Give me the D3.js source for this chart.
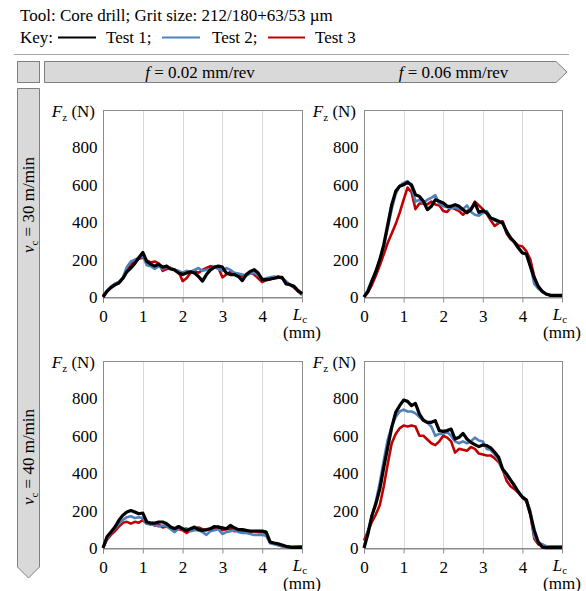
<!DOCTYPE html>
<html>
<head>
<meta charset="utf-8">
<script src="https://cdn.jsdelivr.net/npm/d3@7"></script>
<style>
    body { margin: 0; background: #fff; }
    svg { display: block; font-family: 'Liberation Serif', 'Times New Roman', serif; }
</style>
</head>
<body>
<svg id="chart" width="586" height="591"></svg>
<script>
'use strict';

// Cutting length L_c (mm), shared by every trace
var lc = [0, 0.1, 0.2, 0.3, 0.4, 0.5, 0.6, 0.7, 0.8, 0.9,
          1, 1.1, 1.2, 1.3, 1.4, 1.5, 1.6, 1.7, 1.8, 1.9,
          2, 2.1, 2.2, 2.3, 2.4, 2.5, 2.6, 2.7, 2.8, 2.9,
          3, 3.1, 3.2, 3.3, 3.4, 3.5, 3.6, 3.7, 3.8, 3.9,
          4, 4.1, 4.2, 4.3, 4.4, 4.5, 4.6, 4.7, 4.8, 4.9, 5];

// Thrust force F_z (N): vc = 30 m/min, f = 0.02 mm/rev
var fz30f02t1 = [0, 30, 50, 65, 75, 100, 135, 155, 180, 210, 238, 190, 175, 165, 175, 160, 165, 150, 145, 128, 120, 128, 135, 128, 110, 85, 120, 145, 160, 165, 160, 128, 120, 120, 110, 88, 120, 137, 146, 128, 93, 93, 96, 100, 105, 105, 70, 66, 57, 34, 18];
var fz30f02t2 = [0, 35, 55, 70, 80, 105, 160, 190, 200, 210, 220, 170, 165, 150, 165, 150, 160, 155, 145, 140, 130, 140, 135, 145, 155, 140, 145, 150, 160, 150, 140, 155, 145, 130, 125, 120, 115, 125, 130, 115, 95, 100, 105, 110, 105, 100, 85, 65, 55, 35, 10];
var fz30f02t3 = [10, 30, 55, 70, 80, 100, 140, 175, 190, 205, 210, 195, 185, 190, 180, 140, 150, 155, 145, 135, 85, 100, 130, 140, 130, 145, 155, 165, 160, 155, 105, 120, 135, 125, 120, 110, 120, 130, 120, 100, 80, 90, 95, 100, 110, 100, 75, 65, 50, 30, 15];

// vc = 30 m/min, f = 0.06 mm/rev
var fz30f06t1 = [0, 30, 85, 137, 200, 280, 387, 494, 565, 592, 600, 613, 600, 547, 538, 512, 467, 485, 520, 512, 503, 485, 485, 494, 485, 467, 450, 467, 503, 453, 462, 450, 422, 414, 405, 396, 351, 316, 294, 262, 235, 230, 164, 102, 57, 30, 16, 9, 9, 9, 9];
var fz30f06t2 = [0, 40, 90, 140, 200, 270, 370, 470, 550, 595, 610, 620, 590, 510, 520, 500, 520, 530, 545, 500, 485, 480, 475, 480, 470, 470, 490, 455, 440, 435, 450, 460, 420, 410, 400, 395, 350, 320, 290, 260, 240, 230, 170, 70, 45, 30, 15, 10, 5, 5, 5];
var fz30f06t3 = [0, 25, 65, 115, 170, 230, 290, 340, 390, 450, 520, 585, 560, 470, 500, 500, 495, 510, 495, 490, 460, 455, 480, 470, 460, 440, 460, 470, 510, 490, 470, 445, 410, 380, 395, 405, 340, 310, 295, 275, 270, 245, 200, 110, 55, 30, 15, 10, 8, 8, 8];

// vc = 40 m/min, f = 0.02 mm/rev
var fz40f02t1 = [0, 60, 85, 112, 148, 175, 192, 200, 192, 183, 187, 139, 133, 133, 139, 139, 130, 112, 103, 115, 103, 94, 103, 112, 98, 94, 98, 103, 115, 112, 108, 103, 121, 108, 98, 98, 94, 91, 91, 91, 91, 85, 32, 27, 23, 16, 9, 5, 3, 3, 3];
var fz40f02t2 = [0, 50, 80, 105, 130, 150, 165, 170, 160, 165, 160, 130, 125, 125, 115, 120, 115, 100, 85, 105, 100, 105, 90, 95, 95, 85, 70, 90, 95, 100, 75, 85, 90, 95, 85, 80, 80, 75, 70, 70, 70, 65, 25, 20, 15, 10, 5, 3, 2, 2, 2];
var fz40f02t3 = [0, 45, 70, 90, 115, 135, 140, 130, 140, 135, 150, 130, 130, 120, 125, 110, 115, 110, 105, 100, 95, 80, 95, 105, 110, 100, 95, 105, 105, 115, 95, 100, 105, 90, 95, 90, 85, 85, 90, 85, 85, 80, 30, 25, 15, 10, 8, 6, 6, 8, 8];

// vc = 40 m/min, f = 0.06 mm/rev
var fz40f06t1 = [0, 76, 174, 236, 316, 432, 539, 645, 725, 761, 791, 784, 761, 773, 716, 684, 672, 672, 681, 628, 624, 628, 636, 583, 592, 613, 583, 565, 553, 542, 551, 548, 535, 512, 485, 423, 396, 364, 334, 299, 272, 258, 183, 94, 32, 5, 2, 2, 2, 2, 2];
var fz40f06t2 = [0, 90, 170, 250, 350, 470, 580, 650, 700, 730, 740, 730, 730, 720, 700, 680, 670, 650, 600, 610, 610, 620, 600, 570, 560, 570, 560, 570, 590, 575, 570, 530, 525, 500, 470, 420, 385, 360, 330, 300, 275, 255, 200, 60, 30, 20, 10, 5, 3, 3, 3];
var fz40f06t3 = [40, 90, 140, 180, 230, 330, 450, 560, 610, 640, 655, 650, 655, 650, 600, 600, 580, 560, 550, 570, 600, 590, 570, 510, 530, 525, 520, 540, 530, 505, 500, 495, 495, 480, 460, 420, 360, 330, 315, 295, 270, 250, 180, 50, 20, 10, 8, 8, 8, 8, 8];

// Axes and labels
var xTicks = [0, 1, 2, 3, 4];
var yTicks = [0, 200, 400, 600, 800];
var testLabels = ['Test 1;', 'Test 2;', 'Test 3'];
var feedLabels = ['0.02 mm/rev', '0.06 mm/rev'];
var speedLabels = ['30 m/min', '40 m/min'];
var toolLine = 'Tool: Core drill; Grit size: 212/180+63/53 \u00b5m';


var COLORS = ['#000000', '#4f81bd', '#c00000'],
    WIDTHS = [3.2, 2.6, 2.6],
    GRID = '#d9d9d9',
    AXIS = '#8c8c8c',
    BANNER_FILL = '#d9d9d9',
    BANNER_STROKE = '#7f7f7f',
    FONT = 17;

var svg = d3.select('#chart');


/**
 * Header: tool description and key.
 */
function drawHeader() {
    svg.append('text')
        .attr('x', 20)
        .attr('y', 21)
        .attr('font-size', FONT)
        .text(toolLine);

    svg.append('text')
        .attr('x', 20)
        .attr('y', 43)
        .attr('font-size', FONT)
        .text('Key:');

    var keyLines = [[58, 96], [162, 200], [268, 305]],
        keyText = [106, 212, 315];

    testLabels.forEach(function (label, i) {
        svg.append('line')
            .attr('x1', keyLines[i][0])
            .attr('x2', keyLines[i][1])
            .attr('y1', 37.5)
            .attr('y2', 37.5)
            .attr('stroke', COLORS[i])
            .attr('stroke-width', 2);

        svg.append('text')
            .attr('x', keyText[i])
            .attr('y', 43)
            .attr('font-size', FONT)
            .text(label);
    });

    svg.append('line')
        .attr('x1', 14)
        .attr('x2', 569)
        .attr('y1', 54.5)
        .attr('y2', 54.5)
        .attr('stroke', '#a6a6a6')
        .attr('stroke-width', 1);
}


/**
 * Grey banners: feed rate arrow across the top, cutting speed arrow down the side.
 */
function drawBanners() {
    svg.append('rect')
        .attr('x', 17.5)
        .attr('y', 61.5)
        .attr('width', 22)
        .attr('height', 21)
        .attr('fill', BANNER_FILL)
        .attr('stroke', BANNER_STROKE);

    svg.append('path')
        .attr('d', 'M44.5,61.5 H556 L567,72 L556,82.5 H44.5 Z')
        .attr('fill', BANNER_FILL)
        .attr('stroke', BANNER_STROKE);

    svg.append('path')
        .attr('d', 'M17.5,88.5 H39.5 V567 L28.5,578 L17.5,567 Z')
        .attr('fill', BANNER_FILL)
        .attr('stroke', BANNER_STROKE);

    var feedX = [200, 453.5];
    feedLabels.forEach(function (label, i) {
        var t = svg.append('text')
            .attr('x', feedX[i])
            .attr('y', 78)
            .attr('text-anchor', 'middle')
            .attr('font-size', FONT);
        t.append('tspan').attr('font-style', 'italic').text('f');
        t.append('tspan').text(' = ' + label);
    });

    var speedY = [205, 457];
    speedLabels.forEach(function (label, i) {
        var t = svg.append('text')
            .attr('transform', 'translate(34,' + speedY[i] + ') rotate(-90)')
            .attr('text-anchor', 'middle')
            .attr('font-size', FONT);
        t.append('tspan').attr('font-style', 'italic').text('v');
        t.append('tspan').attr('font-size', '0.65em').attr('dy', 4).text('c');
        t.append('tspan').attr('dy', -4).text(' = ' + label);
    });
}


/**
 * One force–length panel with three tests.
 */
function drawPanel(left, top, width, height, tests) {
    var x = d3.scaleLinear().domain([0, 5]).range([left, left + width]),
        y = d3.scaleLinear().domain([0, 1000]).range([top + height, top]);

    var g = svg.append('g');

    // vertical gridlines
    g.selectAll('.grid')
        .data(xTicks.slice(1))
        .enter()
        .append('line')
        .attr('x1', function (d) { return Math.round(x(d)) + 0.5; })
        .attr('x2', function (d) { return Math.round(x(d)) + 0.5; })
        .attr('y1', top)
        .attr('y2', top + height)
        .attr('stroke', GRID);

    // plot area border
    g.append('rect')
        .attr('x', Math.round(left) + 0.5)
        .attr('y', Math.round(top) + 0.5)
        .attr('width', Math.round(width))
        .attr('height', Math.round(height))
        .attr('fill', 'none')
        .attr('stroke', AXIS);

    // x axis
    var xAxis = g.append('g')
        .attr('transform', 'translate(0,' + (Math.round(top + height) + 0.5) + ')')
        .call(d3.axisBottom(x).tickValues(xTicks).tickFormat(d3.format('d'))
            .tickSize(5).tickPadding(7).tickSizeOuter(5));
    xAxis.select('.domain').attr('stroke', AXIS);
    xAxis.selectAll('.tick line').attr('stroke', AXIS);
    xAxis.selectAll('text')
        .attr('font-family', 'Liberation Serif, serif')
        .attr('font-size', FONT)
        .attr('fill', '#000');

    // y axis
    var yAxis = g.append('g')
        .attr('transform', 'translate(' + (Math.round(left) + 0.5) + ',0)')
        .call(d3.axisLeft(y).tickValues(yTicks).tickFormat(d3.format('d')).tickSize(0).tickPadding(6));
    yAxis.select('.domain').remove();
    yAxis.selectAll('text')
        .attr('font-family', 'Liberation Serif, serif')
        .attr('font-size', FONT)
        .attr('fill', '#000');

    // axis titles
    var fz = g.append('text')
        .attr('x', left - 8)
        .attr('y', top + 7)
        .attr('text-anchor', 'end')
        .attr('font-size', FONT);
    fz.append('tspan').attr('font-style', 'italic').text('F');
    fz.append('tspan').attr('font-size', '0.65em').attr('dy', 4).text('z');
    fz.append('tspan').attr('dy', -4).text(' (N)');

    var lcT = g.append('text')
        .attr('x', x(5) - 2)
        .attr('y', top + height + 23)
        .attr('text-anchor', 'middle')
        .attr('font-size', FONT);
    lcT.append('tspan').attr('font-style', 'italic').text('L');
    lcT.append('tspan').attr('font-size', '0.65em').attr('dy', 3).text('c');

    g.append('text')
        .attr('x', x(5))
        .attr('y', top + height + 41)
        .attr('text-anchor', 'middle')
        .attr('font-size', FONT)
        .text('(mm)');

    // traces, test 1 on top
    var line = d3.line()
        .x(function (d, i) { return x(lc[i]); })
        .y(function (d) { return y(d); });

    [2, 1, 0].forEach(function (k) {
        g.append('path')
            .datum(tests[k])
            .attr('d', line)
            .attr('fill', 'none')
            .attr('stroke', COLORS[k])
            .attr('stroke-width', WIDTHS[k])
            .attr('stroke-linejoin', 'round');
    });
}


drawHeader();
drawBanners();
drawPanel(103, 110, 199, 187, [fz30f02t1, fz30f02t2, fz30f02t3]);
drawPanel(364, 110, 198, 187, [fz30f06t1, fz30f06t2, fz30f06t3]);
drawPanel(103, 361, 199, 187, [fz40f02t1, fz40f02t2, fz40f02t3]);
drawPanel(364, 361, 198, 187, [fz40f06t1, fz40f06t2, fz40f06t3]);
</script>
</body>
</html>
